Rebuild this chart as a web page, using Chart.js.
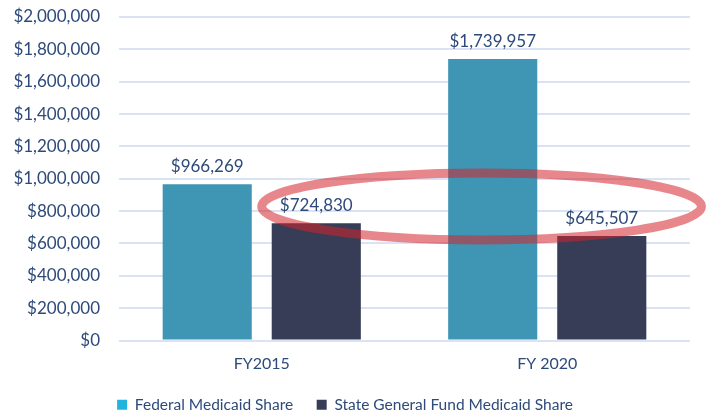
<!DOCTYPE html>
<html>
<head>
<meta charset="utf-8">
<script src="https://cdn.jsdelivr.net/npm/chart.js@4/dist/chart.umd.min.js"></script>
<style>
  html, body { margin: 0; padding: 0; background: #fff; }
  #wrap { width: 712px; height: 416px; position: relative; }
</style>
</head>
<body>
<div id="wrap"><canvas id="medicaidChart"></canvas></div>
<script>
const categories = ['FY2015', 'FY 2020'];
const federalShare = [966269, 1739957];
const stateShare = [724830, 645507];
const seriesNames = ['Federal Medicaid Share', 'State General Fund Medicaid Share'];
const yMin = 0, yMax = 2000000, yStep = 200000;
// highlight ring, in category index / dollar units
const ringX = [0, 1.54];
const ringY = [622000, 1036000];

const TEXT = '#2d4a7a';
const FONT = "Lato, 'Open Sans', sans-serif";
const BAR_COLORS = ['#3f96b4', '#373d56'];
const LEGEND_COLORS = ['#22b4df', '#373d56'];

const money = v => '$' + Math.round(v).toLocaleString('en-US');

const overlay = {
  id: 'overlay',
  afterDatasetsDraw(chart) {
    const { ctx, scales: { x, y } } = chart;
    // red ring
    const x0 = x.getPixelForValue(ringX[0]), x1 = x.getPixelForValue(ringX[1]);
    const y0 = y.getPixelForValue(ringY[1]), y1 = y.getPixelForValue(ringY[0]);
    ctx.save();
    ctx.beginPath();
    ctx.ellipse((x0 + x1) / 2, (y0 + y1) / 2, (x1 - x0) / 2, (y1 - y0) / 2, 0, 0, Math.PI * 2);
    ctx.strokeStyle = 'rgba(212,33,41,0.54)';
    ctx.lineWidth = 9;
    ctx.stroke();
    ctx.restore();

    // value labels
    ctx.save();
    ctx.font = '17px ' + FONT;
    ctx.fillStyle = TEXT;
    ctx.textAlign = 'center';
    ctx.textBaseline = 'alphabetic';
    chart.data.datasets.forEach((ds, i) => {
      chart.getDatasetMeta(i).data.forEach((bar, j) => {
        ctx.fillText(money(ds.data[j]), bar.x, bar.y - 12);
      });
    });
    ctx.restore();
  }
};

new Chart(document.getElementById('medicaidChart'), {
  type: 'bar',
  data: {
    labels: categories,
    datasets: [
      { label: seriesNames[0], data: federalShare, backgroundColor: BAR_COLORS[0] },
      { label: seriesNames[1], data: stateShare, backgroundColor: BAR_COLORS[1] },
    ],
  },
  options: {
    responsive: true,
    maintainAspectRatio: false,
    animation: false,
    layout: { padding: { left: 0, right: 22, top: 17, bottom: -6.5 } },
    datasets: { bar: { categoryPercentage: 0.764, barPercentage: 0.817 } },
    plugins: {
      legend: {
        position: 'bottom',
        labels: {
          color: TEXT,
          font: { family: FONT, size: 15.5 },
          boxWidth: 10,
          boxHeight: 10,
          padding: 23.5,
          generateLabels: chart => chart.data.datasets.map((ds, i) => ({
            text: ds.label,
            fillStyle: LEGEND_COLORS[i],
            strokeStyle: LEGEND_COLORS[i],
            lineWidth: 0,
            fontColor: TEXT,
            datasetIndex: i,
          })),
        },
      },
      tooltip: { enabled: false },
    },
    scales: {
      x: {
        grid: { display: false, drawTicks: false },
        border: { display: false },
        ticks: { color: TEXT, font: { family: FONT, size: 16 }, padding: 14 },
        afterFit: s => { s.height = 33; },
      },
      y: {
        min: yMin,
        max: yMax,
        ticks: {
          stepSize: yStep,
          color: TEXT,
          font: { family: FONT, size: 17 },
          padding: 0,
          callback: v => money(v),
        },
        grid: { color: '#d9e3f3', lineWidth: 2, drawTicks: true, tickLength: 19, tickColor: 'rgba(0,0,0,0)' },
        border: { display: false },
        afterFit: s => { s.width = 119; },
      },
    },
  },
  plugins: [overlay],
});
</script>
</body>
</html>
